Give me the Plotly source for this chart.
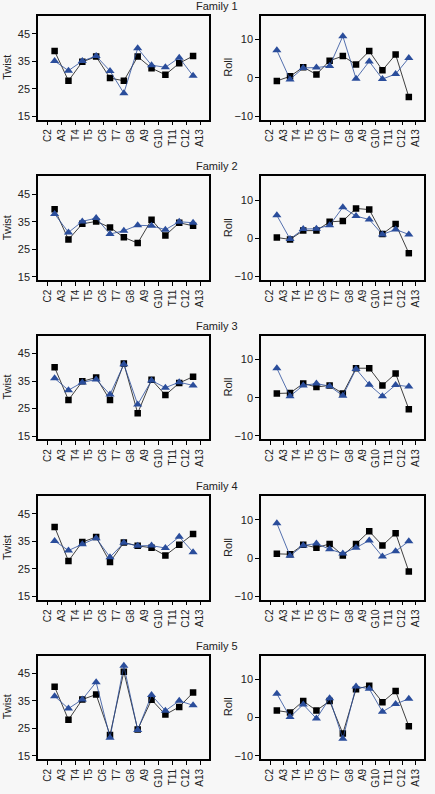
import plotly.graph_objects as go
from plotly.subplots import make_subplots

steps = ["C2", "A3", "T4", "T5", "C6", "T7", "G8", "A9", "G10", "T11", "C12", "A13"]
families = ["Family 1", "Family 2", "Family 3", "Family 4", "Family 5"]

twist_sq = [
    [38.7, 27.9, 34.8, 36.7, 28.9, 27.9, 36.7, 32.5, 30.1, 34.3, 36.9],
    [39.5, 28.5, 34.2, 35.1, 32.9, 29.3, 27.2, 35.7, 30.0, 34.6, 33.5],
    [40.0, 28.1, 34.9, 36.3, 28.1, 41.4, 23.3, 35.5, 29.9, 34.3, 36.6],
    [40.3, 27.9, 34.8, 36.6, 27.5, 34.6, 33.4, 32.7, 29.9, 33.8, 37.7],
    [40.1, 28.1, 35.5, 37.3, 22.6, 45.6, 24.6, 35.4, 30.0, 32.8, 38.0],
]
twist_tri = [
    [35.1, 31.6, 35.1, 36.9, 31.5, 23.4, 39.7, 33.6, 32.8, 36.3, 29.7],
    [37.8, 31.1, 35.1, 36.3, 30.5, 31.7, 33.7, 33.5, 32.1, 35.0, 34.6],
    [36.0, 31.7, 34.5, 35.6, 30.1, 41.1, 26.5, 35.2, 32.6, 34.6, 33.4],
    [35.2, 31.7, 34.0, 36.2, 29.3, 34.5, 33.4, 33.5, 32.6, 36.7, 31.1],
    [36.7, 32.2, 35.5, 41.8, 21.6, 47.8, 24.4, 37.1, 31.4, 35.0, 33.4],
]
roll_sq = [
    [-0.8, 0.4, 2.8, 0.9, 4.5, 5.7, 3.5, 7.0, 2.0, 6.1, -5.0],
    [0.2, -0.3, 2.0, 2.0, 4.3, 4.5, 7.8, 7.5, 1.1, 3.7, -3.9],
    [1.1, 1.2, 3.7, 2.8, 3.2, 1.1, 7.7, 7.7, 3.2, 6.3, -3.0],
    [1.1, 1.0, 3.5, 2.7, 3.7, 0.7, 3.7, 7.0, 3.3, 6.5, -3.5],
    [1.8, 1.3, 4.3, 1.8, 4.3, -4.2, 7.4, 8.3, 4.0, 6.9, -2.3],
]
roll_tri = [
    [7.2, -0.4, 2.6, 2.7, 3.1, 10.9, -0.2, 4.3, -0.3, 1.0, 5.2],
    [6.0, -0.2, 2.4, 2.5, 3.4, 8.1, 5.8, 4.9, 1.0, 2.3, 1.0],
    [7.7, 0.4, 3.2, 3.7, 3.0, 0.5, 7.5, 3.4, 0.4, 3.3, 2.9],
    [9.1, 0.6, 3.3, 3.8, 2.3, 1.2, 2.7, 4.6, 0.4, 1.8, 4.4],
    [6.2, 0.1, 3.4, -0.3, 5.0, -5.6, 8.1, 7.5, 1.5, 3.5, 4.9],
]

W, H = 435, 794
BG = "#f7f7f7"
BLUE = "#2a4d9b"
FONT = "Liberation Sans"
TXT = "#222222"

tick_pos = list(range(len(steps)))
pt_pos = [i + 0.5 for i in range(len(steps) - 1)]

fig = make_subplots(rows=5, cols=2)

tops = [16, 177, 337, 498, 658]
ph = 104
xdom = [(38 / W, 209 / W), (261 / W, 424 / W)]

annotations = []
for r in range(5):
    for c in range(2):
        sq = twist_sq[r] if c == 0 else roll_sq[r]
        tri = twist_tri[r] if c == 0 else roll_tri[r]
        fig.add_trace(go.Scatter(
            x=pt_pos, y=sq, mode="lines+markers",
            line=dict(color="#111111", width=0.8),
            marker=dict(symbol="square", size=6.5, color="black"),
            showlegend=False), row=r + 1, col=c + 1)
        fig.add_trace(go.Scatter(
            x=pt_pos, y=tri, mode="lines+markers",
            line=dict(color=BLUE, width=0.8),
            marker=dict(symbol="triangle-up", size=8, color=BLUE),
            showlegend=False), row=r + 1, col=c + 1)
        idx = r * 2 + c + 1
        xa = "xaxis" if idx == 1 else f"xaxis{idx}"
        ya = "yaxis" if idx == 1 else f"yaxis{idx}"
        y0 = 1 - (tops[r] + ph) / H
        y1 = 1 - tops[r] / H
        fig.layout[xa].update(
            domain=list(xdom[c]), range=[-0.7, 11.65],
            tickmode="array", tickvals=tick_pos, ticktext=steps,
            tickangle=-90, ticks="outside", ticklen=4, tickwidth=1,
            tickcolor="black", showgrid=False, zeroline=False,
            showline=True, linecolor="black", linewidth=1.5, mirror=True,
            tickfont=dict(family=FONT, size=10, color=TXT))
        if c == 0:
            yr, yt = [13.8, 51.5], [15, 25, 35, 45]
        else:
            yr, yt = [-10.9, 16.2], [-10, 0, 10]
        fig.layout[ya].update(
            domain=[y0, y1], range=yr, tickmode="array", tickvals=yt,
            ticks="outside", ticklen=4, tickwidth=1, tickcolor="black",
            showgrid=False, zeroline=False,
            showline=True, linecolor="black", linewidth=1.5, mirror=True,
            tickfont=dict(family=FONT, size=11, color=TXT))
        annotations.append(dict(
            text="Twist" if c == 0 else "Roll", xref="paper", yref="paper",
            x=(7 if c == 0 else 228) / W, y=1 - (tops[r] + ph / 2) / H,
            textangle=-90, showarrow=False, xanchor="center", yanchor="middle",
            font=dict(family=FONT, size=11, color=TXT)))
    annotations.append(dict(
        text=families[r], xref="paper", yref="paper",
        x=217 / W, y=1 - (tops[r] - 10) / H, showarrow=False,
        xanchor="center", yanchor="middle",
        font=dict(family=FONT, size=11, color=TXT)))

fig.update_layout(
    width=W, height=H, margin=dict(l=0, r=0, t=0, b=0),
    paper_bgcolor=BG, plot_bgcolor=BG, annotations=annotations,
    font=dict(family=FONT, size=11))

fig.write_html(
    "out.html",
    config={"displayModeBar": False},
    post_script="document.body.style.margin='0';document.body.style.background='#f7f7f7';")
